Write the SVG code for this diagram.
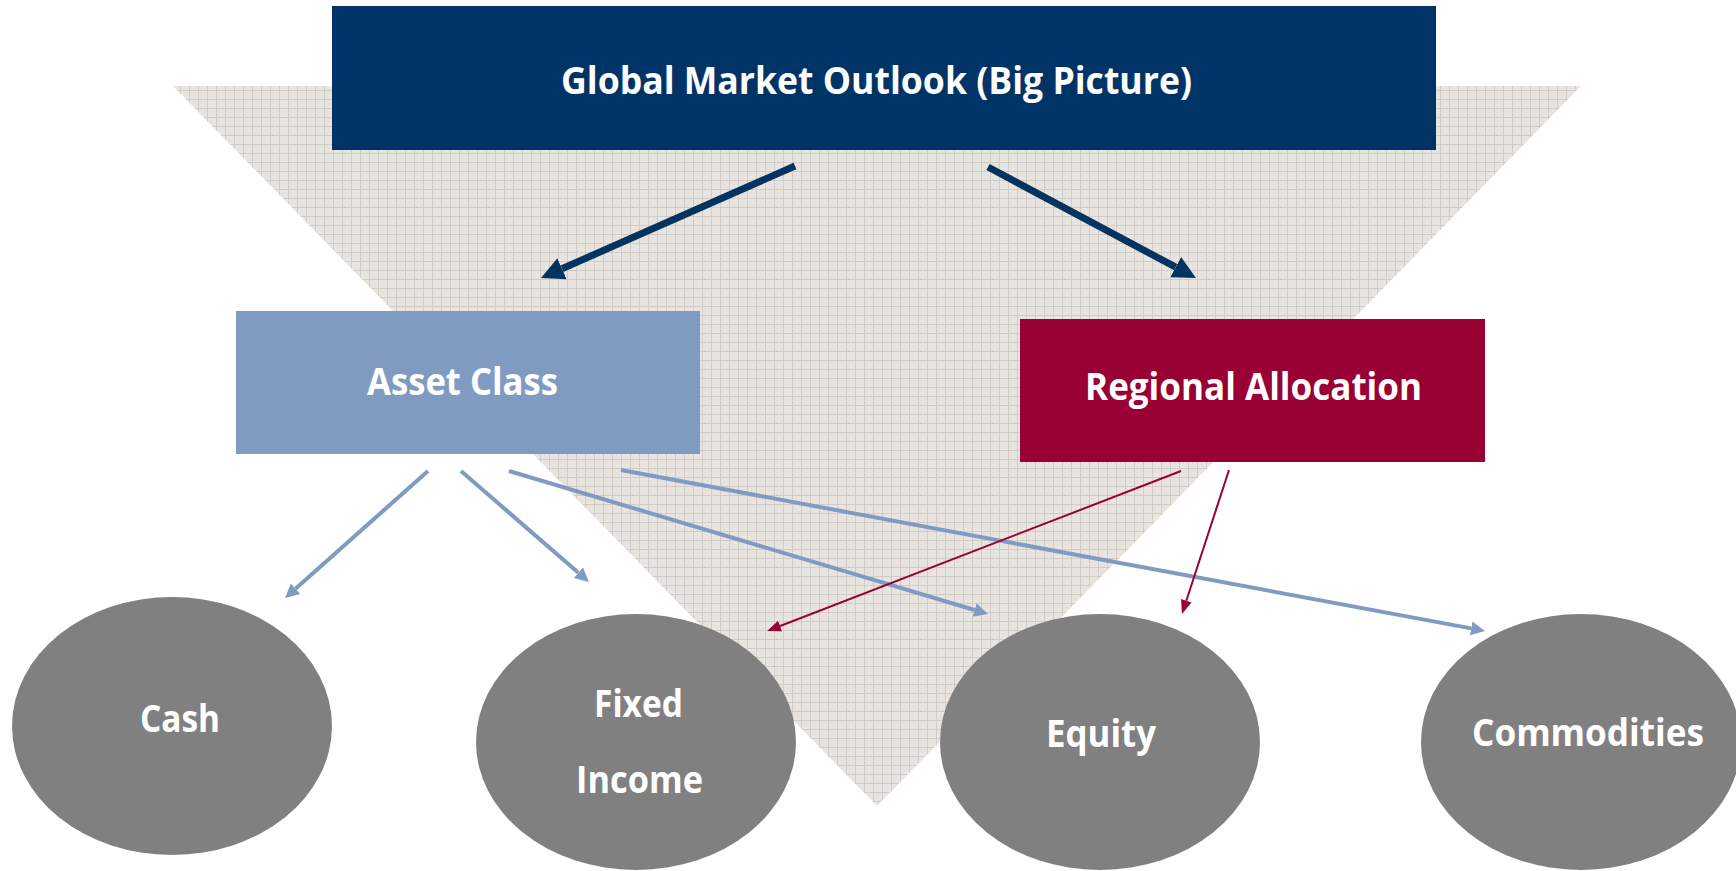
<svg xmlns="http://www.w3.org/2000/svg" width="1736" height="871" viewBox="0 0 1736 871">
  <defs>
    <pattern id="grid" width="9" height="9" patternUnits="userSpaceOnUse">
      <rect width="9" height="9" fill="#e8e5e1"/>
      <rect x="0" y="0" width="1" height="1" fill="#dcd8d3"/>
      <rect x="4" y="4" width="1" height="1" fill="#dcd8d3"/>
      <path d="M0,0.5 H9 M0.5,0 V9" stroke="#d1ccc7" stroke-width="1" fill="none"/>
    </pattern>
    <marker id="hDark" markerUnits="userSpaceOnUse" viewBox="0 -12 24 24" markerWidth="24" markerHeight="24" refX="0" refY="0" orient="auto">
      <path d="M0,-11.5 L23,0 L0,11.5 z" fill="#03345f"/>
    </marker>
    <marker id="hLight" markerUnits="userSpaceOnUse" viewBox="0 -8 16 16" markerWidth="16" markerHeight="16" refX="0" refY="0" orient="auto">
      <path d="M0,-7 L14,0 L0,7 z" fill="#809bc1"/>
    </marker>
    <marker id="hRed" markerUnits="userSpaceOnUse" viewBox="0 -8 16 16" markerWidth="16" markerHeight="16" refX="0" refY="0" orient="auto">
      <path d="M0,-5.5 L14,0 L0,5.5 z" fill="#990033"/>
    </marker>
  </defs>
  <style>
    .lbl { font-family: "Open Sans", Lato, "Liberation Sans", sans-serif; font-weight: 700; fill: #ffffff; text-anchor: middle; }
    .big { font-size: 38px; }
    .oval { fill: #808080; }
    .dark { stroke: #03345f; stroke-width: 7; fill: none; marker-end: url(#hDark); }
    .light { stroke: #809bc1; stroke-width: 4; fill: none; marker-end: url(#hLight); }
    .red { stroke: #990033; stroke-width: 2; fill: none; marker-end: url(#hRed); }
  </style>

  <g id="background">
    <polygon points="173,86 1581,86 877,806" fill="url(#grid)"/>
  </g>

  <g id="node-global">
    <rect x="332" y="6" width="1104" height="144" fill="#003366"/>
    <text class="lbl big" x="876.5" y="94" textLength="631" lengthAdjust="spacingAndGlyphs">Global Market Outlook (Big Picture)</text>
  </g>

  <g id="connectors">
    <line class="dark" x1="795" y1="166" x2="562" y2="268.7"/>
    <line class="dark" x1="988" y1="167" x2="1175.7" y2="267.2"/>
    <line class="light" x1="428" y1="471" x2="295.5" y2="588.7"/>
    <line class="light" x1="461" y1="471" x2="578.4" y2="572.8"/>
    <line class="light" x1="509" y1="471" x2="974.6" y2="610"/>
    <line class="light" x1="621" y1="470" x2="1471.2" y2="628.4"/>
    <line class="red" x1="1181" y1="471" x2="780.1" y2="626"/>
    <line class="red" x1="1229" y1="470" x2="1186.3" y2="600.7"/>
  </g>

  <g id="node-asset-class">
    <rect x="236" y="311" width="464" height="143" fill="#809bc1"/>
    <text class="lbl big" x="462.5" y="395" textLength="191" lengthAdjust="spacingAndGlyphs">Asset Class</text>
  </g>

  <g id="node-regional">
    <rect x="1020" y="319" width="465" height="143" fill="#990033"/>
    <text class="lbl big" x="1253.5" y="400" textLength="337" lengthAdjust="spacingAndGlyphs">Regional Allocation</text>
  </g>

  <g id="node-cash">
    <ellipse class="oval" cx="172" cy="726" rx="160" ry="129"/>
    <text class="lbl big" x="180" y="732" textLength="80" lengthAdjust="spacingAndGlyphs">Cash</text>
  </g>

  <g id="node-fixed-income">
    <ellipse class="oval" cx="636" cy="742" rx="160" ry="128"/>
    <text class="lbl big" x="638.5" y="717" textLength="89" lengthAdjust="spacingAndGlyphs">Fixed</text>
    <text class="lbl big" x="639.5" y="793" textLength="127" lengthAdjust="spacingAndGlyphs">Income</text>
  </g>

  <g id="node-equity">
    <ellipse class="oval" cx="1100" cy="742" rx="160" ry="128"/>
    <text class="lbl big" x="1101" y="747" textLength="110" lengthAdjust="spacingAndGlyphs">Equity</text>
  </g>

  <g id="node-commodities">
    <ellipse class="oval" cx="1581" cy="742" rx="160" ry="128"/>
    <text class="lbl big" x="1588" y="746" textLength="232" lengthAdjust="spacingAndGlyphs">Commodities</text>
  </g>
</svg>
